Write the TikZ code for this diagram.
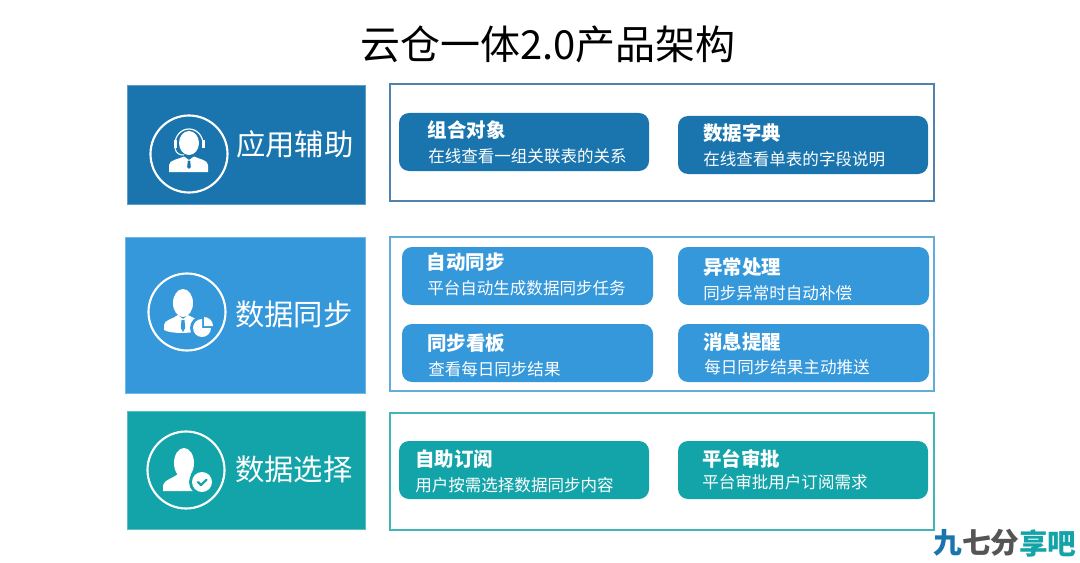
\documentclass[tikz,border=0pt]{standalone}
\usepackage{fontspec}
\setmainfont{Noto Sans CJK SC}
\definecolor{cA}{HTML}{1A75AE}
\definecolor{cB}{HTML}{3498DB}
\definecolor{cC}{HTML}{13A4A9}
\definecolor{fA}{HTML}{4F83AE}
\definecolor{fB}{HTML}{62ACDC}
\definecolor{fC}{HTML}{45B4B8}
\definecolor{wmg}{HTML}{555555}
\tikzset{
  sidebox/.style={draw=#1!70!white,line width=0.5pt,fill=#1},
  panelbox/.style={draw=#1,line width=0.9pt,fill=white},
  card/.style={fill=#1,rounded corners=7.5pt},
  ring/.style={draw=white,line width=1.6pt,fill=none},
  sidetext/.style={anchor=west,inner sep=0,text=white,font=\fontsize{22pt}{24pt}\selectfont},
  cardhead/.style={anchor=west,inner sep=0,text=white,font=\fontsize{14.6pt}{17pt}\selectfont\bfseries},
  cardsub/.style={anchor=west,inner sep=0,text=white,font=\fontsize{12.4pt}{15pt}\selectfont},
  wm/.style={anchor=west,inner sep=0,font=\fontsize{21.5pt}{24pt}\selectfont\bfseries}
}
\begin{document}
\begin{tikzpicture}[x=0.75pt,y=-0.75pt]
\useasboundingbox (0,0) rectangle (1080,563);
\fill[white] (0,0) rectangle (1080,563);
\node[anchor=center,inner sep=0,font=\fontsize{30pt}{34pt}\selectfont] (title) at (548,44) {云仓一体2.0产品架构};

% left blocks
\draw[sidebox=cA] (127,85) rectangle (365,204);
\draw[sidebox=cB] (125,237) rectangle (365,393);
\draw[sidebox=cC] (127,411) rectangle (365,529);

% panels
\draw[panelbox=fA] (390,84) rectangle (934,201);
\draw[panelbox=fB] (390,237) rectangle (934,391);
\draw[panelbox=fC] (390,413) rectangle (934,530);

% rings
\draw[ring] (189,154) circle (38.5);
\draw[ring] (187,312) circle (38.5);
\draw[ring] (186,470) circle (38.5);

% icon 1: headset agent
\begin{scope}[shift={(189,154)}]
  \fill[white] (0,-11) ellipse (10 and 12);
  \draw[white,line width=0.9pt] (-14,-10) arc[start angle=180,end angle=360,x radius=14,y radius=15];
  \fill[white] (-15.5,-14) rectangle (-12.5,-6);
  \fill[white] (12.5,-14) rectangle (15.5,-6);
  \draw[white,line width=0.8pt] (-14,-6) .. controls (-13,0) and (-9,1) .. (-5,1);
  \fill[white] (-20,18) -- (-20,11) .. controls (-20,6) and (-10,5) .. (-5,2.5) -- (0,6) -- (5,2.5) .. controls (10,5) and (19,6) .. (19,11) -- (19,18) -- cycle;
  \fill[cA] (-1.2,6.5) -- (1.2,6.5) -- (1.8,13) -- (0,15) -- (-1.8,13) -- cycle;
\end{scope}

% icon 2: manager with pie
\begin{scope}[shift={(187,312)}]
  \fill[white] (-4,-9) ellipse (10 and 14);
  \fill[white] (-23,18) -- (-23,13) .. controls (-23,8) and (-14,7) .. (-9,3) -- (-4,7) -- (1,3) .. controls (6,6) and (14,8) .. (14,13) -- (11,20) -- (-4,21) .. controls (-12,21) and (-20,20) .. (-23,18) -- cycle;
  \fill[cB] (-5.5,8) -- (-2.5,8) -- (-1.8,16) -- (-4,20) -- (-6.2,16) -- cycle;
  \fill[cB] (15,16) circle (12);
  \fill[white] (15,16) -- (15,7) arc[start angle=270,end angle=0,radius=9] -- cycle;
  \fill[white] (17,14) -- (26,14) arc[start angle=0,end angle=-90,radius=9] -- cycle;
\end{scope}

% icon 3: person with check
\begin{scope}[shift={(186,470)}]
  \fill[white] (-2,-7) ellipse (10 and 15);
  \fill[white] (-23,21) -- (-23,15) .. controls (-22,10) and (-12,8) .. (-7,3) -- (3,3) .. controls (6,8) and (12,9) .. (15,12) -- (12,21) -- cycle;
  \fill[cC] (16,12) circle (13);
  \fill[white] (16,12) circle (10);
  \draw[cC,line width=1.6pt,line cap=round,line join=round] (12,12) -- (15,15) -- (20.5,9.5);
\end{scope}

% side labels
\node[sidetext] (la) at (236,144) {应用辅助};
\node[sidetext] (lb) at (235,314) {数据同步};
\node[sidetext] (lc) at (235,469) {数据选择};

% cards
\fill[card=cA] (399,113) rectangle (649,171);
\fill[card=cA] (678,116) rectangle (928,174);
\fill[card=cB] (402,247) rectangle (653,305);
\fill[card=cB] (678,247) rectangle (929,305);
\fill[card=cB] (402,324) rectangle (653,382);
\fill[card=cB] (678,324) rectangle (929,382);
\fill[card=cC] (399,441) rectangle (649,499);
\fill[card=cC] (678,441) rectangle (928,499);

\node[cardhead] (h1) at (427.5,130.5) {组合对象};
\node[cardsub] (s1) at (428,156.5) {在线查看一组关联表的关系};
\node[cardhead] (h2) at (703,133.5) {数据字典};
\node[cardsub] (s2) at (703,159.5) {在线查看单表的字段说明};
\node[cardhead] (h3) at (426.5,262.5) {自动同步};
\node[cardsub] (s3) at (427,288.5) {平台自动生成数据同步任务};
\node[cardhead] (h4) at (703,267.5) {异常处理};
\node[cardsub] (s4) at (703,293.5) {同步异常时自动补偿};
\node[cardhead] (h5) at (427,343.5) {同步看板};
\node[cardsub] (s5) at (428,369.5) {查看每日同步结果};
\node[cardhead] (h6) at (703,341.5) {消息提醒};
\node[cardsub] (s6) at (704,367.5) {每日同步结果主动推送};
\node[cardhead] (h7) at (415,459.5) {自助订阅};
\node[cardsub] (s7) at (415,485.5) {用户按需选择数据同步内容};
\node[cardhead] (h8) at (702,458.5) {平台审批};
\node[cardsub] (s8) at (702,482.5) {平台审批用户订阅需求};

% watermark
\node[wm,text=cA] (w1) at (933,543) {九};
\node[wm,text=wmg] (w2) at (962,543) {七分};
\node[wm,text=cC] (w3) at (1019,543) {享吧};
\end{tikzpicture}
\end{document}
